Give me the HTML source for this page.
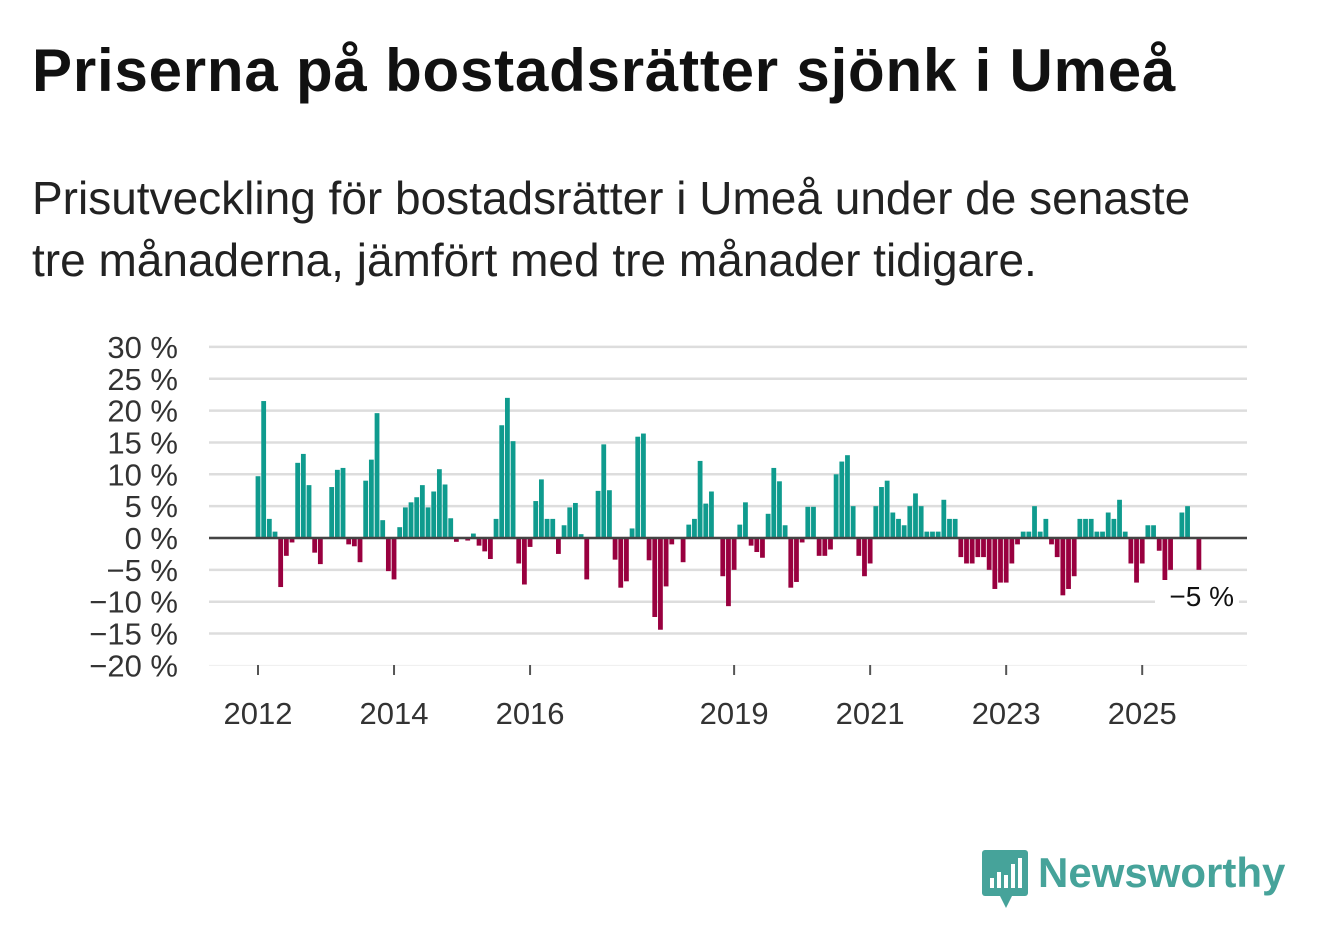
<!DOCTYPE html>
<html><head><meta charset="utf-8">
<style>
body{margin:0;background:#fff;width:1322px;height:939px;overflow:hidden;font-family:"Liberation Sans","DejaVu Sans",sans-serif;}
#title{position:absolute;left:32px;top:36px;font-size:60px;font-weight:bold;color:#111;letter-spacing:0.8px;margin:0;white-space:nowrap}
#sub{position:absolute;left:32px;top:167px;font-size:46px;line-height:62px;color:#222;width:1190px}
svg{position:absolute;left:0;top:0}
</style></head><body>
<h1 id="title">Priserna på bostadsrätter sjönk i Umeå</h1>
<div id="sub">Prisutveckling för bostadsrätter i Umeå under de senaste tre månaderna, jämfört med tre månader tidigare.</div>
<svg id="chart" width="1322" height="939"></svg>
<div style="position:absolute;left:982px;top:850px;display:flex;align-items:center">
 <svg width="48" height="60" style="position:static"><rect x="0" y="0" width="46" height="46" rx="3" fill="#46a39a"/><polygon points="18,46 30,46 24,58" fill="#46a39a"/><rect x="8" y="28" width="4" height="10" fill="#fff"/><rect x="15" y="22" width="4" height="16" fill="#fff"/><rect x="22" y="25" width="4" height="13" fill="#fff"/><rect x="29" y="14" width="4" height="24" fill="#fff"/><rect x="36" y="8" width="4" height="30" fill="#fff"/></svg>
 <span style="font-size:42px;font-weight:bold;color:#46a39a;margin-left:8px;margin-top:-14px">Newsworthy</span>
</div>
<script>
const values=[9.7,21.5,3,1,-7.7,-2.8,-0.7,11.8,13.2,8.3,-2.3,-4.1,0,8,10.7,11,-1,-1.3,-3.8,9,12.3,19.6,2.8,-5.2,-6.5,1.7,4.8,5.6,6.4,8.3,4.8,7.3,10.8,8.4,3.1,-0.6,0,-0.4,0.7,-1.2,-2.1,-3.3,3,17.7,22,15.2,-4,-7.3,-1.4,5.8,9.2,3,3,-2.5,2,4.8,5.5,0.6,-6.5,0,7.4,14.7,7.5,-3.4,-7.8,-6.8,1.5,15.9,16.4,-3.5,-12.4,-14.4,-7.6,-1,0,-3.8,2.1,3,12.1,5.4,7.3,0,-6,-10.7,-5,2.1,5.6,-1.2,-2.2,-3.1,3.8,11,8.9,2,-7.8,-6.9,-0.7,4.9,4.9,-2.8,-2.8,-1.8,10,12,13,5,-2.8,-6,-4,5,8,9,4,3,2,5,7,5,1,1,1,6,3,3,-3,-4,-4,-3,-3,-5,-8,-7,-7,-4,-1,1,1,5,1,3,-1,-3,-9,-8,-6,3,3,3,1,1,4,3,6,1,-4,-7,-4,2,2,-2,-7,-5,0,4,5,0,-5];
const yTicks=[30,25,20,15,10,5,0,-5,-10,-15,-20];
const xTickYears=[2012,2014,2016,2019,2021,2023,2025];
const startYear=2012;
const lastLabel="−5 %";
const svg=document.getElementById('chart');
const NS='http://www.w3.org/2000/svg';
const y=v=>538-v*6.37;
const x=i=>258+i*5.668;
function mk(t,a){const e=document.createElementNS(NS,t);for(const k in a)e.setAttribute(k,a[k]);svg.appendChild(e);return e;}
yTicks.forEach(t=>{
 const l=mk('line',{x1:209,x2:1247,y1:y(t),y2:y(t),stroke:t===-20?'#eee':'#ddd','stroke-width':t===-20?1:2.5});
 
 
 const tx=mk('text',{x:178,y:y(t)+11,'text-anchor':'end','font-size':31,fill:'#333'});
 tx.textContent=(t<0?'−'+(-t):t)+' %';
 
 
});
values.forEach((v,i)=>{
 const r=mk('rect',{x:x(i)-2.4,width:4.8,y:Math.min(y(v),538),height:Math.abs(y(v)-538),fill:v>=0?'#0f9b8e':'#99003f'});
 
 
});
const z=mk('line',{x1:209,x2:1247,y1:538,y2:538,stroke:'#444','stroke-width':2.5});


xTickYears.forEach(yr=>{
 const xi=x((yr-startYear)*12);
 const tk=mk('line',{x1:xi,x2:xi,y1:665,y2:675,stroke:'#555','stroke-width':2});
 
 
 const t=mk('text',{x:xi,y:724,'text-anchor':'middle','font-size':31,fill:'#333'});
 t.textContent=yr;
 
 
});
const bg=mk('rect',{x:1155,y:580,width:84,height:32,fill:'#fff'});


const lt=mk('text',{x:1234,y:606,'text-anchor':'end','font-size':28,fill:'#111'});
lt.textContent=lastLabel;


</script>
</body></html>
